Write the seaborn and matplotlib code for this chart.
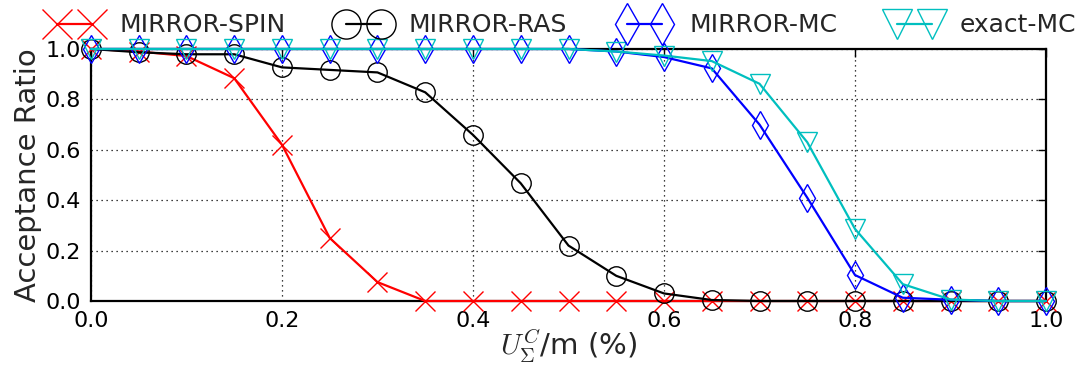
import numpy as np
import pandas as pd
import matplotlib
matplotlib.use("Agg")
import matplotlib.pyplot as plt
import seaborn as sns

# ---- data ----
x = [0.00, 0.05, 0.10, 0.15, 0.20, 0.25, 0.30, 0.35, 0.40, 0.45, 0.50,
     0.55, 0.60, 0.65, 0.70, 0.75, 0.80, 0.85, 0.90, 0.95, 1.00]
spin = [1.00, 0.99, 0.972, 0.884, 0.62, 0.25, 0.075, 0.0, 0.0, 0.0, 0.0,
        0.0, 0.0, 0.0, 0.0, 0.0, 0.0, 0.0, 0.0, 0.0, 0.0]
ras = [1.00, 0.987, 0.979, 0.979, 0.927, 0.917, 0.907, 0.828, 0.659, 0.467, 0.22,
       0.10, 0.03, 0.004, 0.0, 0.0, 0.0, 0.0, 0.0, 0.0, 0.0]
mc = [1.00, 1.00, 1.00, 1.00, 1.00, 1.00, 1.00, 1.00, 1.00, 1.00, 1.00,
      0.99, 0.968, 0.923, 0.70, 0.41, 0.103, 0.013, 0.005, 0.0, 0.0]
exact = [1.00, 1.00, 1.00, 1.00, 1.00, 1.00, 1.00, 1.00, 1.00, 1.00, 1.00,
         0.99, 0.974, 0.952, 0.862, 0.63, 0.286, 0.067, 0.006, 0.0, 0.0]
labels = ["MIRROR-SPIN", "MIRROR-RAS", "MIRROR-MC", "exact-MC"]
series = [spin, ras, mc, exact]
colors = ["#ff0000", "#000000", "#0000ff", "#00bfbf"]
markers = ["x", "o", "d", "v"]
xticks = [0.0, 0.2, 0.4, 0.6, 0.8, 1.0]
yticks = [0.0, 0.2, 0.4, 0.6, 0.8, 1.0]

sns.set_theme(style="white")
plt.rcParams["font.family"] = ["DejaVu Sans"]
plt.rcParams["mathtext.fontset"] = "cm"

fig = plt.figure(figsize=(10.87, 3.65), dpi=100)
ax = fig.add_axes([0.0837, 0.1753, 0.9623 - 0.0837, 0.8658 - 0.1753])

for lab, ys, c, m in zip(labels, series, colors, markers):
    df = pd.DataFrame({"x": x, "y": ys})
    sns.lineplot(data=df, x="x", y="y", ax=ax, color=c, marker=m,
                 markersize=14, markerfacecolor="none", markeredgecolor=c,
                 markeredgewidth=1.0, linewidth=1.6, label=lab, clip_on=False)

ax.set_xlim(0, 1)
ax.set_ylim(0, 1)
ax.set_xticks(xticks)
ax.set_yticks(yticks)
ax.set_xticklabels([f"{v:.1f}" for v in xticks])
ax.set_yticklabels([f"{v:.1f}" for v in yticks])
ax.grid(True, color="black", linestyle=(0, (1, 3)), linewidth=0.9)
ax.tick_params(direction="in", length=6, width=1, top=True, right=True,
               labelsize=16, pad=7, colors="black")
for s in ax.spines.values():
    s.set_color("black")
    s.set_linewidth(1.6)
    s.set_zorder(1.5)

ax.set_xlabel(r"$U_{\Sigma}^{C}$/m (%)", fontsize=21, labelpad=-2)
ax.set_ylabel("Acceptance Ratio", fontsize=21, labelpad=3)

handles, labs = ax.get_legend_handles_labels()
ax.get_legend().remove()
leg = fig.legend(handles, labs, loc="upper center", bbox_to_anchor=(0.518, 1.025),
                 ncol=4, frameon=False, fontsize=18, numpoints=2,
                 handlelength=2.0, handletextpad=0.8, columnspacing=2.1,
                 markerscale=1.5)

fig.savefig("out.png", dpi=100)
